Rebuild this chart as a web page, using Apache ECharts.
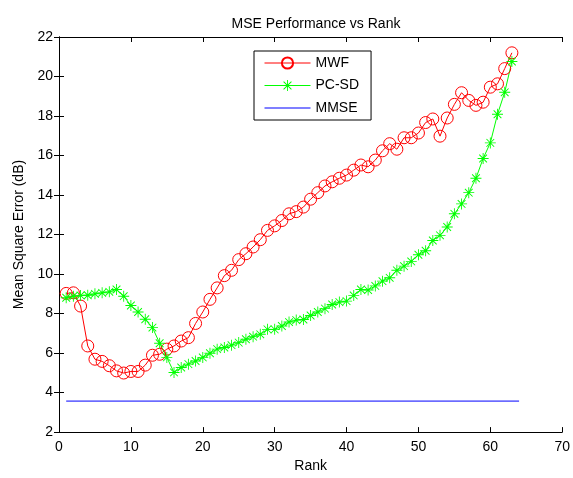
<!DOCTYPE html>
<html>
<head>
<meta charset="utf-8">
<script src="https://cdn.jsdelivr.net/npm/echarts@6/dist/echarts.min.js"></script>
<style>
  html, body { margin: 0; padding: 0; background: #fff; }
  #chart { width: 573px; height: 478px; }
</style>
</head>
<body>
<div id="chart"></div>
<script>
// rank axis
const ranks = [1, 2, 3, 4, 5, 6, 7, 8, 9, 10, 11, 12, 13, 14, 15, 16, 17, 18, 19, 20,
  21, 22, 23, 24, 25, 26, 27, 28, 29, 30, 31, 32, 33, 34, 35, 36, 37, 38, 39, 40,
  41, 42, 43, 44, 45, 46, 47, 48, 49, 50, 51, 52, 53, 54, 55, 56, 57, 58, 59, 60,
  61, 62, 63];

// MSE values (dB)
const mwf = [9.02, 9.05, 8.38, 6.36, 5.69, 5.58, 5.36, 5.10, 4.99, 5.07,
  5.07, 5.39, 5.89, 5.94, 6.20, 6.36, 6.61, 6.78, 7.50, 8.08,
  8.72, 9.30, 9.92, 10.19, 10.73, 11.03, 11.37, 11.74, 12.21, 12.44,
  12.71, 13.05, 13.16, 13.39, 13.79, 14.12, 14.46, 14.67, 14.85, 15.01,
  15.26, 15.52, 15.43, 15.77, 16.24, 16.60, 16.32, 16.90, 16.90, 17.14,
  17.67, 17.85, 16.98, 17.90, 18.59, 19.18, 18.79, 18.54, 18.70, 19.46,
  19.63, 20.40, 21.20];

const pcsd = [8.80, 8.88, 8.92, 8.93, 9.00, 9.05, 9.10, 9.22, 8.88, 8.41,
  8.08, 7.71, 7.29, 6.50, 5.78, 5.02, 5.27, 5.44, 5.60, 5.78,
  5.99, 6.20, 6.28, 6.40, 6.53, 6.70, 6.83, 6.95, 7.20, 7.20,
  7.37, 7.57, 7.67, 7.70, 7.90, 8.08, 8.25, 8.46, 8.58, 8.63,
  8.92, 9.22, 9.19, 9.40, 9.64, 9.81, 10.19, 10.40, 10.64, 10.98,
  11.18, 11.70, 11.96, 12.38, 13.05, 13.55, 14.12, 14.85, 15.85, 16.64,
  18.09, 19.20, 20.76];

const mmseX = [1, 64];
const mmseY = [3.57, 3.57];

const chart = echarts.init(document.getElementById('chart'));

const font = 'Liberation Sans, Arial, sans-serif';
// asterisk marker like matlab '*'
const star = 'path://M4.6,0 L5.4,0 L5.4,10 L4.6,10 Z M0,4.6 L10,4.6 L10,5.4 L0,5.4 Z ' +
  'M1.2,1.8 L1.8,1.2 L8.8,8.2 L8.2,8.8 Z M8.2,1.2 L8.8,1.8 L1.8,8.8 L1.2,8.2 Z';

const axisCommon = {
  type: 'value',
  axisLine: { show: true, lineStyle: { color: '#000', width: 1 } },
  axisTick: { show: true, inside: true, length: 5, lineStyle: { color: '#000' } },
  splitLine: { show: false }
};

chart.setOption({
  backgroundColor: '#fff',
  animation: false,
  title: {
    text: 'MSE Performance vs Rank',
    left: 311,
    textAlign: 'center',
    top: 12,
    textStyle: { fontFamily: font, fontSize: 14, fontWeight: 'normal', color: '#000' }
  },
  legend: {
    orient: 'vertical',
    left: 254,
    top: 51,
    padding: [5, 12, 5, 10],
    itemWidth: 46,
    itemHeight: 14,
    itemGap: 8.5,
    borderColor: '#000',
    borderWidth: 1,
    backgroundColor: '#fff',
    lineStyle: { width: 1 },
    textStyle: { fontFamily: font, fontSize: 14, color: '#000' },
    data: [
      'MWF',
      'PC-SD',
      // plain line, no marker
      { name: 'MMSE', icon: 'path://M0,0 L46,0 L46,1 L0,1 Z' }
    ]
  },
  grid: { left: 59, right: 9, top: 37, bottom: 45 },
  xAxis: [
    Object.assign({}, axisCommon, {
      min: 0, max: 70, interval: 10,
      name: 'Rank',
      nameLocation: 'middle',
      nameGap: 25,
      nameTextStyle: { fontFamily: font, fontSize: 14, color: '#000', verticalAlign: 'top' },
      axisLabel: { fontFamily: font, fontSize: 14, color: '#000', margin: 8 }
    }),
    Object.assign({}, axisCommon, {
      position: 'top', min: 0, max: 70, interval: 10,
      axisLabel: { show: false }
    })
  ],
  yAxis: [
    Object.assign({}, axisCommon, {
      min: 2, max: 22, interval: 2,
      name: 'Mean Square Error (dB)',
      nameLocation: 'middle',
      nameGap: 32,
      nameTextStyle: { fontFamily: font, fontSize: 14, color: '#000' },
      axisLabel: { fontFamily: font, fontSize: 14, color: '#000', margin: 6 }
    }),
    Object.assign({}, axisCommon, {
      position: 'right', min: 2, max: 22, interval: 2,
      axisLabel: { show: false }
    })
  ],
  series: [
    {
      name: 'MWF',
      type: 'line',
      data: ranks.map((r, i) => [r, mwf[i]]),
      symbol: 'circle',
      symbolSize: 12,
      lineStyle: { color: '#ff0000', width: 1 },
      itemStyle: { color: 'rgba(0,0,0,0)', borderColor: '#ff0000', borderWidth: 1 }
    },
    {
      name: 'PC-SD',
      type: 'line',
      data: ranks.map((r, i) => [r, pcsd[i]]),
      symbol: star,
      symbolSize: 11,
      lineStyle: { color: '#00ff00', width: 1 },
      itemStyle: { color: '#00ff00' }
    },
    {
      name: 'MMSE',
      type: 'line',
      data: mmseX.map((x, i) => [x, mmseY[i]]),
      symbol: 'none',
      lineStyle: { color: '#0000ff', width: 1 },
      itemStyle: { color: '#0000ff' }
    }
  ]
});
</script>
</body>
</html>
